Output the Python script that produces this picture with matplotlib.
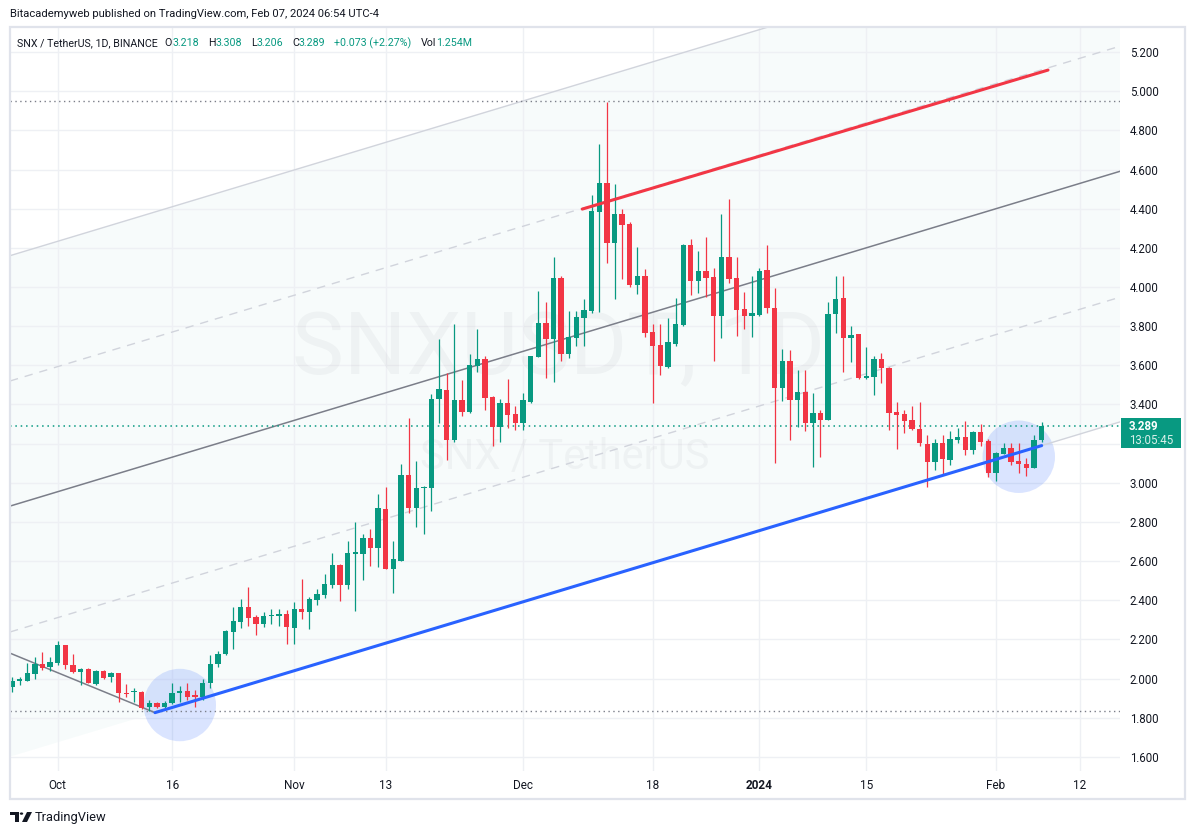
import matplotlib
matplotlib.use("Agg")
import matplotlib.pyplot as plt
import numpy as np
import pandas as pd
from matplotlib.patches import Ellipse, Rectangle, Polygon, Circle

W, H = 1195, 835

# daily SNX/USDT candles starting 2023-09-25
start_date = "2023-09-25"
opens = [1.955, 1.990, 1.989, 2.023, 2.073, 2.061, 2.081, 2.171, 2.068, 2.034,
         2.049, 1.972, 2.039, 2.008, 2.028, 1.928, 1.930, 1.932, 1.853, 1.873,
         1.853, 1.873, 1.925, 1.937, 1.911, 1.908, 1.976, 2.072, 2.124, 2.240,
         2.291, 2.365, 2.314, 2.279, 2.321, 2.321, 2.330, 2.260, 2.355, 2.340,
         2.401, 2.427, 2.478, 2.580, 2.478, 2.638, 2.638, 2.718, 2.668, 2.866,
         2.561, 2.602, 3.040, 2.873, 2.975, 2.975, 3.428, 3.474, 3.218, 3.423,
         3.360, 3.596, 3.632, 3.440, 3.286, 3.409, 3.351, 3.307, 3.414, 3.641,
         3.818, 3.734, 4.047, 3.656, 3.738, 3.843, 3.879, 4.385, 4.531, 4.226,
         4.373, 4.322, 4.010, 4.056, 3.768, 3.704, 3.590, 3.711, 3.806, 4.214,
         4.030, 4.081, 4.053, 3.853, 4.155, 4.047, 3.887, 3.853, 3.857, 4.087,
         3.891, 3.486, 3.622, 3.423, 3.462, 3.303, 3.355, 3.321, 3.862, 3.942,
         3.741, 3.760, 3.537, 3.542, 3.632, 3.588, 3.361, 3.351, 3.320, 3.273,
         3.198, 3.108, 3.201, 3.116, 3.218, 3.232, 3.167, 3.259, 3.215, 3.052,
         3.147, 3.176, 3.111, 3.094, 3.077, 3.218]
highs = [2.006, 2.006, 2.078, 2.108, 2.134, 2.108, 2.190, 2.171, 2.125, 2.056,
         2.052, 2.044, 2.044, 2.034, 2.030, 1.972, 1.950, 1.937, 1.889, 1.878,
         1.884, 1.976, 1.962, 1.976, 1.942, 1.996, 2.119, 2.141, 2.248, 2.367,
         2.406, 2.469, 2.325, 2.342, 2.355, 2.355, 2.350, 2.393, 2.508, 2.418,
         2.457, 2.534, 2.641, 2.585, 2.703, 2.801, 2.738, 2.764, 2.943, 2.977,
         2.704, 3.096, 3.329, 3.111, 2.982, 3.453, 3.734, 3.559, 3.811, 3.525,
         3.658, 3.785, 3.647, 3.445, 3.428, 3.530, 3.392, 3.457, 3.650, 3.981,
         3.925, 4.155, 4.058, 3.877, 3.877, 3.938, 4.470, 4.730, 4.943, 4.524,
         4.398, 4.333, 4.206, 4.092, 3.811, 3.811, 3.840, 3.942, 4.219, 4.245,
         4.185, 4.257, 4.098, 4.373, 4.449, 4.155, 3.972, 4.056, 4.095, 4.214,
         3.993, 3.683, 3.678, 3.576, 3.576, 3.457, 3.372, 3.925, 4.056, 4.056,
         3.801, 3.760, 3.695, 3.647, 3.661, 3.590, 3.411, 3.372, 3.392, 3.411,
         3.244, 3.222, 3.244, 3.264, 3.281, 3.315, 3.264, 3.300, 3.222, 3.159,
         3.205, 3.201, 3.201, 3.125, 3.244, 3.308]
lows = [1.933, 1.965, 1.989, 1.996, 2.044, 2.040, 2.068, 2.051, 2.030, 1.969,
        1.976, 1.969, 1.996, 1.984, 1.879, 1.904, 1.882, 1.846, 1.836, 1.850,
        1.848, 1.870, 1.882, 1.891, 1.857, 1.891, 1.950, 2.061, 2.120, 2.151,
        2.260, 2.270, 2.222, 2.265, 2.279, 2.270, 2.177, 2.177, 2.304, 2.253,
        2.376, 2.413, 2.464, 2.396, 2.457, 2.347, 2.503, 2.575, 2.571, 2.561,
        2.439, 2.600, 2.844, 2.776, 2.737, 2.857, 3.307, 3.116, 3.210, 3.343,
        3.355, 3.567, 3.372, 3.189, 3.210, 3.281, 3.269, 3.269, 3.409, 3.640,
        3.533, 3.516, 3.623, 3.635, 3.700, 3.700, 3.869, 3.874, 4.124, 3.937,
        4.041, 4.001, 3.964, 3.746, 3.406, 3.550, 3.584, 3.700, 3.800, 3.959,
        3.971, 3.950, 3.623, 3.741, 4.018, 3.749, 3.785, 3.746, 3.853, 3.869,
        3.103, 3.418, 3.218, 3.286, 3.266, 3.082, 3.133, 3.320, 3.767, 3.567,
        3.619, 3.528, 3.528, 3.448, 3.508, 3.269, 3.171, 3.252, 3.270, 3.189,
        2.980, 3.065, 3.045, 3.091, 3.205, 3.142, 3.145, 3.190, 3.031, 3.011,
        3.147, 3.091, 3.048, 3.036, 3.077, 3.206]
closes = [1.987, 1.993, 2.027, 2.074, 2.054, 2.085, 2.171, 2.068, 2.034, 2.049,
          1.979, 2.039, 2.005, 2.028, 1.928, 1.921, 1.932, 1.851, 1.873, 1.853,
          1.875, 1.925, 1.937, 1.908, 1.908, 1.976, 2.073, 2.124, 2.243, 2.294,
          2.365, 2.311, 2.280, 2.319, 2.326, 2.331, 2.263, 2.355, 2.340, 2.406,
          2.433, 2.483, 2.580, 2.478, 2.641, 2.641, 2.718, 2.668, 2.871, 2.561,
          2.611, 3.040, 2.873, 2.973, 2.980, 3.426, 3.479, 3.218, 3.423, 3.363,
          3.601, 3.632, 3.435, 3.286, 3.409, 3.346, 3.307, 3.423, 3.649, 3.818,
          3.734, 4.047, 3.656, 3.743, 3.845, 3.882, 4.388, 4.531, 4.226, 4.373,
          4.318, 4.010, 4.056, 3.763, 3.698, 3.596, 3.717, 3.811, 4.214, 4.030,
          4.081, 4.047, 3.853, 4.155, 4.041, 3.882, 3.853, 3.869, 4.081, 3.891,
          3.486, 3.622, 3.423, 3.462, 3.303, 3.355, 3.321, 3.862, 3.937, 3.741,
          3.755, 3.537, 3.545, 3.632, 3.584, 3.358, 3.348, 3.317, 3.275, 3.201,
          3.108, 3.201, 3.121, 3.222, 3.232, 3.167, 3.259, 3.210, 3.052, 3.150,
          3.176, 3.108, 3.094, 3.077, 3.218, 3.289]

tick_dates = ["2023-10-01", "2023-10-16", "2023-11-01", "2023-11-13", "2023-12-01",
              "2023-12-18", "2024-01-01", "2024-01-15", "2024-02-01", "2024-02-12"]
tick_labels = ["Oct", "16", "Nov", "13", "Dec", "18", "2024", "15", "Feb", "12"]
price_ticks = [1.6, 1.8, 2.0, 2.2, 2.4, 2.6, 2.8, 3.0, 3.2, 3.4, 3.6, 3.8,
               4.0, 4.2, 4.4, 4.6, 4.8, 5.0, 5.2]

# drawings (x = day index from start, y = price)
chan_x = [-0.26, 145.27]
chan_top = [4.160, 5.870]
chan_q1 = [3.520, 5.230]
chan_mid = [2.881, 4.591]
chan_q3 = [2.238, 3.948]
chan_bot = [1.601, 3.311]
blue_x, blue_y = [18.75, 135.0], [1.826, 3.190]
red_x, red_y = [74.77, 135.83], [4.398, 5.108]
down_x, down_y = [-0.26, 18.75], [2.130, 1.826]
hlines_gray = [4.950, 1.833]
last_price = 3.289
circles = [(22.0, 1.865), (132.0, 3.133)]

GREEN = "#089981"
RED = "#f23645"
TXT = "#131722"

plt.rcParams["font.family"] = ["Roboto", "DejaVu Sans"]

dates = pd.date_range(start_date, periods=len(opens), freq="D")
x = np.arange(len(opens))
o = np.array(opens); h = np.array(highs); l = np.array(lows); c = np.array(closes)
tick_x = [(pd.Timestamp(d) - dates[0]).days for d in tick_dates]

fig = plt.figure(figsize=(W / 100, H / 100), dpi=100)
fig.patch.set_facecolor("white")
ax = fig.add_axes([10 / W, 1 - 771 / H, 1110 / W, 744 / H])
ax.set_xlim(-0.26, 145.27)
ax.set_ylim(1.528, 5.328)
for s in ax.spines.values():
    s.set_visible(False)

# grid; the label under the last-price tag is hidden like on TradingView
ax.set_yticks(price_ticks)
ax.set_yticklabels(["" if abs(p - last_price) < 0.1 else f"{p:.3f}" for p in price_ticks])
ax.set_xticks(tick_x)
ax.set_xticklabels(tick_labels)
ax.grid(color="#eef0f4", lw=1, zorder=0)
ax.set_axisbelow(True)
ax.yaxis.tick_right()
ax.tick_params(axis="y", length=0, pad=7, labelsize=8.3, labelcolor=TXT)
ax.tick_params(axis="x", length=0, pad=6, labelsize=8.5, labelcolor=TXT)
for t in ax.get_xticklabels():
    if t.get_text() == "2024":
        t.set_fontweight("bold")

# channel
ax.fill_between(chan_x, chan_bot, chan_top, color=GREEN, alpha=0.03, lw=0, zorder=0.5)
ax.plot(chan_x, chan_top, color="#d1d4dc", lw=1, zorder=2)
ax.plot(chan_x, chan_q1, color="#d1d4dc", lw=1, ls=(0, (6, 5)), zorder=2)
ax.plot(chan_x, chan_mid, color="#7b7e89", lw=1.1, zorder=2)
ax.plot(chan_x, chan_q3, color="#d1d4dc", lw=1, ls=(0, (6, 5)), zorder=2)
ax.plot([blue_x[1], chan_x[1]], [blue_y[1], chan_bot[1]], color="#d1d4dc", lw=1, zorder=2)
ax.plot(down_x, down_y, color="#7b7e89", lw=1.1, zorder=2)

for yv in hlines_gray:
    ax.axhline(yv, color="#7b7e89", lw=1, ls=(0, (1, 2.5)), zorder=2)
ax.axhline(last_price, color=GREEN, lw=1.1, ls=(0, (1, 2.5)), zorder=2)

for cx, cy in circles:
    ax.add_patch(Ellipse((cx, cy), width=9.5, height=0.37, color="#2962ff",
                         alpha=0.17, lw=0, zorder=1))

# watermark
ax.text(559 / W, 1 - 350 / H, "SNXUSDT, 1D", transform=fig.transFigure, ha="center",
        va="center", fontsize=63, color=TXT, alpha=0.035, zorder=0.6)
ax.text(565 / W, 1 - 457 / H, "SNX / TetherUS", transform=fig.transFigure, ha="center",
        va="center", fontsize=30, color=TXT, alpha=0.035, zorder=0.6)

# candles
cols = np.where(c >= o, GREEN, RED)
ax.vlines(x, l, h, colors=cols, lw=0.9, zorder=3)
body_lo = np.minimum(o, c)
body_h = np.maximum(np.abs(c - o), 0.006)
ax.bar(x, body_h, bottom=body_lo, width=0.7, color=cols, lw=0, zorder=4)

# drawn trend lines
ax.plot(blue_x, blue_y, color="#2962ff", lw=2.2, solid_capstyle="round", zorder=5)
ax.plot(red_x, red_y, color=RED, lw=2.2, solid_capstyle="round", zorder=5)

# frame
fig.add_artist(Rectangle((10 / W, 1 - 799 / H), 1175 / W, 772 / H, transform=fig.transFigure,
                         fill=False, ec="#e0e3eb", lw=1.6))

# last price label
fig.add_artist(Rectangle((1121 / W, 1 - 448 / H), 60 / W, 30 / H, transform=fig.transFigure,
                         fc=GREEN, ec="none"))
fig.text(1129 / W, 1 - 427 / H, f"{last_price:.3f}", color="white", fontsize=8.3,
         fontweight="bold", va="center")
fig.text(1129 / W, 1 - 440 / H, "13:05:45", color="#d8f0ea", fontsize=8.3, va="center")

# header
fig.text(10 / W, 1 - 14 / H, "Bitacademyweb published on TradingView.com, Feb 07, 2024 06:54 UTC-4",
         fontsize=8.1, color=TXT, va="center")
pieces = [("SNX / TetherUS, 1D, BINANCE", TXT, 7), ("O", TXT, 0), ("3.218", GREEN, 9),
          ("H", TXT, 0), ("3.308", GREEN, 9), ("L", TXT, 0), ("3.206", GREEN, 9),
          ("C", TXT, 0), ("3.289", GREEN, 9), ("+0.073 (+2.27%)", GREEN, 9),
          ("Vol", TXT, 0), ("1.254M", GREEN, 0)]
renderer = fig.canvas.get_renderer()
xp = 17
for s, col, gap in pieces:
    t = fig.text(xp / W, 1 - 43 / H, s, fontsize=7.7, color=col, va="center")
    xp += t.get_window_extent(renderer).width + gap

# footer logo
def px(xx, yy):
    return (xx / W, 1 - yy / H)

fig.add_artist(Polygon([px(10, 812), px(19, 812), px(19, 822), px(15, 822), px(15, 815), px(10, 815)],
                       closed=True, transform=fig.transFigure, fc=TXT, ec="none"))
fig.add_artist(Circle(px(21.5, 813.6), 1.7 / W, transform=fig.transFigure, fc=TXT, ec="none"))
fig.add_artist(Polygon([px(27, 812), px(32, 812), px(27, 822), px(22, 822)],
                       closed=True, transform=fig.transFigure, fc=TXT, ec="none"))
fig.text(35 / W, 1 - 817 / H, "TradingView", fontsize=9.3, color=TXT, va="center")

fig.savefig("out.png", dpi=100, facecolor="white")
